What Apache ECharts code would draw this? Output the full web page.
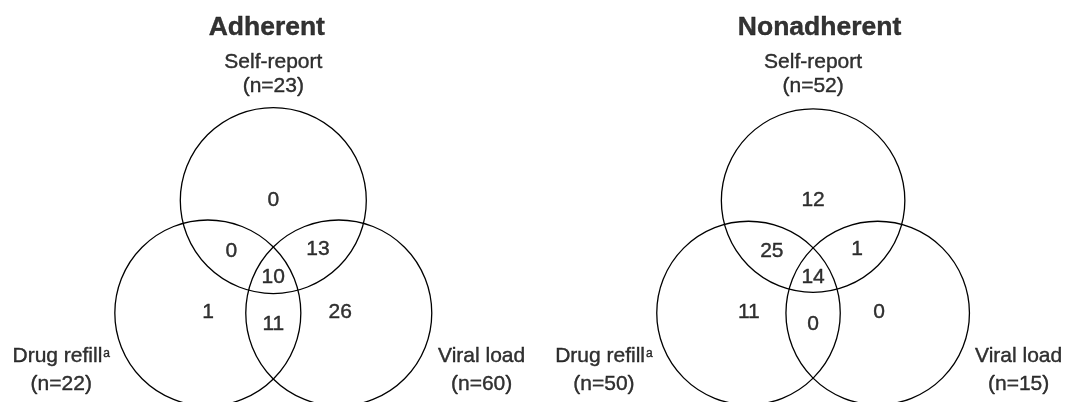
<!DOCTYPE html>
<html>
<head>
<meta charset="utf-8">
<title>Adherent / Nonadherent</title>
<script src="https://cdn.jsdelivr.net/npm/echarts@6/dist/echarts.min.js"></script>
<style>
    html, body { margin: 0; padding: 0; background: #fff; }
    #chart { width: 1070px; height: 402px; }
</style>
</head>
<body>
<div id="chart"></div>
<script>
    // data
    var groups = ['Adherent', 'Nonadherent'];
    var setNames = ['Self-report', 'Drug refill', 'Viral load'];
    var setNotes = ['', 'a', ''];
    var adherentTotals = [23, 22, 60];
    var nonadherentTotals = [52, 50, 15];
    // region order: S only, S+D, S+V, S+D+V, D only, D+V, V only
    var adherentCounts = [0, 0, 13, 10, 1, 11, 26];
    var nonadherentCounts = [12, 25, 1, 14, 11, 0, 0];

    var totals = [adherentTotals, nonadherentTotals];
    var counts = [adherentCounts, nonadherentCounts];

    // layout, in circle-radius units, origin in the middle of the three circles
    var R = 93;
    var circleCenters = [[0, 0.806], [-0.704, -0.403], [0.704, -0.403]];
    var regionSpots = [[0, 0.81], [-0.45, 0.26], [0.48, 0.28], [0, -0.02], [-0.70, -0.40], [0, -0.52], [0.72, -0.40]];
    var setLabelSpots = [[0, 2.167], [-2.28, -1.02], [2.24, -1.02]];
    var titleSpots = [[-0.07, 2.67], [0.07, 2.67]];
    var midX = [273.3, 816.6];
    var midY = 275.5;
    var xSpan = 2.8, yMin = -1.2, yMax = 2.8;

    var font = '"Liberation Sans", Arial, Helvetica, sans-serif';
    var ink = '#000';
    // thin outline so the text reads as solid black like the scan
    var edge = {textBorderColor: ink, textBorderWidth: 0.4};

    var chart = echarts.init(document.getElementById('chart'));

    var grids = [], xAxes = [], yAxes = [], series = [];

    groups.forEach(function (g, i) {
        grids.push({
            left: midX[i] - xSpan * R,
            top: midY - yMax * R,
            width: 2 * xSpan * R,
            height: (yMax - yMin) * R
        });
        xAxes.push({type: 'value', gridIndex: i, min: -xSpan, max: xSpan, show: false});
        yAxes.push({type: 'value', gridIndex: i, min: yMin, max: yMax, show: false});

        // the three circles
        series.push({
            type: 'custom',
            name: g + ' circles',
            coordinateSystem: 'cartesian2d',
            xAxisIndex: i,
            yAxisIndex: i,
            clip: false,
            silent: true,
            data: circleCenters,
            renderItem: function (params, api) {
                var c = api.coord([api.value(0), api.value(1)]);
                var r = api.size([1, 0])[0];
                return {
                    type: 'circle',
                    shape: {cx: c[0], cy: c[1], r: r},
                    style: {fill: 'none', stroke: ink, lineWidth: 1.3}
                };
            }
        });

        // texts: title, set names, region counts
        var items = [];
        items.push({
            value: titleSpots[i],
            label: Object.assign({formatter: g, fontSize: 26.5, fontWeight: 'bold', color: ink, fontFamily: font}, edge)
        });
        setNames.forEach(function (name, k) {
            var lh = k === 0 ? 24 : 28;
            var txt = '{t|' + name + '}' + (setNotes[k] ? '{sup|' + setNotes[k] + '}' : '') +
                '\n{t|(n=' + totals[i][k] + ')}';
            items.push({
                value: setLabelSpots[k],
                label: {
                    formatter: txt,
                    color: ink,
                    rich: {
                        t: Object.assign({fontSize: 21, lineHeight: lh, color: ink, fontFamily: font}, edge),
                        sup: Object.assign({fontSize: 12, verticalAlign: 'top', color: ink, fontFamily: font, padding: [5, 0, 0, 1]}, edge)
                    }
                }
            });
        });
        counts[i].forEach(function (v, k) {
            items.push({
                value: regionSpots[k],
                label: Object.assign({formatter: String(v), fontSize: 21, color: ink, fontFamily: font}, edge)
            });
        });

        series.push({
            type: 'scatter',
            name: g + ' labels',
            xAxisIndex: i,
            yAxisIndex: i,
            symbolSize: 0,
            silent: true,
            data: items,
            label: {
                show: true,
                position: 'inside',
                align: 'center',
                verticalAlign: 'middle',
                color: ink,
                fontFamily: font
            }
        });
    });

    var option = {
        backgroundColor: '#fff',
        animation: false,
        grid: grids,
        xAxis: xAxes,
        yAxis: yAxes,
        series: series
    };
    chart.setOption(option);
</script>
</body>
</html>
